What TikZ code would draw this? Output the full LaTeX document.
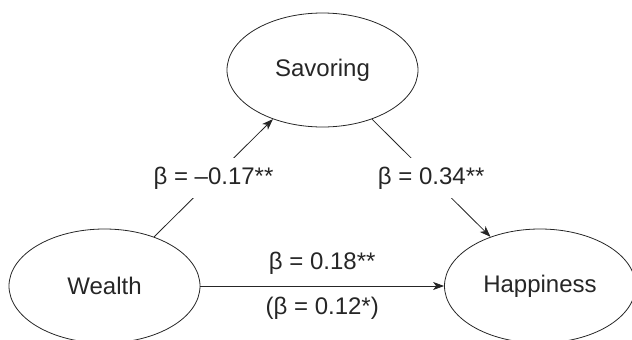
\documentclass[tikz,border=0pt]{standalone}
\usepackage{fontspec}
\setmainfont{Liberation Sans}
\usetikzlibrary{shapes.geometric,arrows.meta}
\begin{document}
\begin{tikzpicture}[x=1pt,y=-1pt,
  var/.style={draw=black!85, ellipse, minimum width=191pt, minimum height=114pt, inner sep=0pt, line width=0.8pt, text=black!85, font=\fontsize{24}{28}\selectfont},
  pathline/.style={draw=black!85, line width=0.8pt, -{Stealth[length=11pt,width=8pt,inset=3pt]}},
  coef/.style={font=\fontsize{24}{28}\selectfont, text=black!85, fill=white, inner xsep=2pt, inner ysep=9pt},
  hcoef/.style={font=\fontsize{24}{28}\selectfont, text=black!85, inner sep=0pt}]
\useasboundingbox (0,0) rectangle (632,340);
\node[var] (sav) at (322.5,70) {Savoring};
\node[var] (wea) at (104.5,286) {Wealth};
\node[var] (hap) at (540,286) {Happiness};
\draw[pathline] (wea) -- node[coef, midway] (l1) {β = –0.17**} (sav);
\draw[pathline] (sav) -- node[coef, midway] (l2) {β = 0.34**} (hap);
\draw[pathline] (wea) -- node[hcoef, midway, yshift=23pt] (l3) {β = 0.18**}
                       node[hcoef, midway, yshift=-22pt] (l4) {(β = 0.12*)} (hap);
\end{tikzpicture}
\end{document}
